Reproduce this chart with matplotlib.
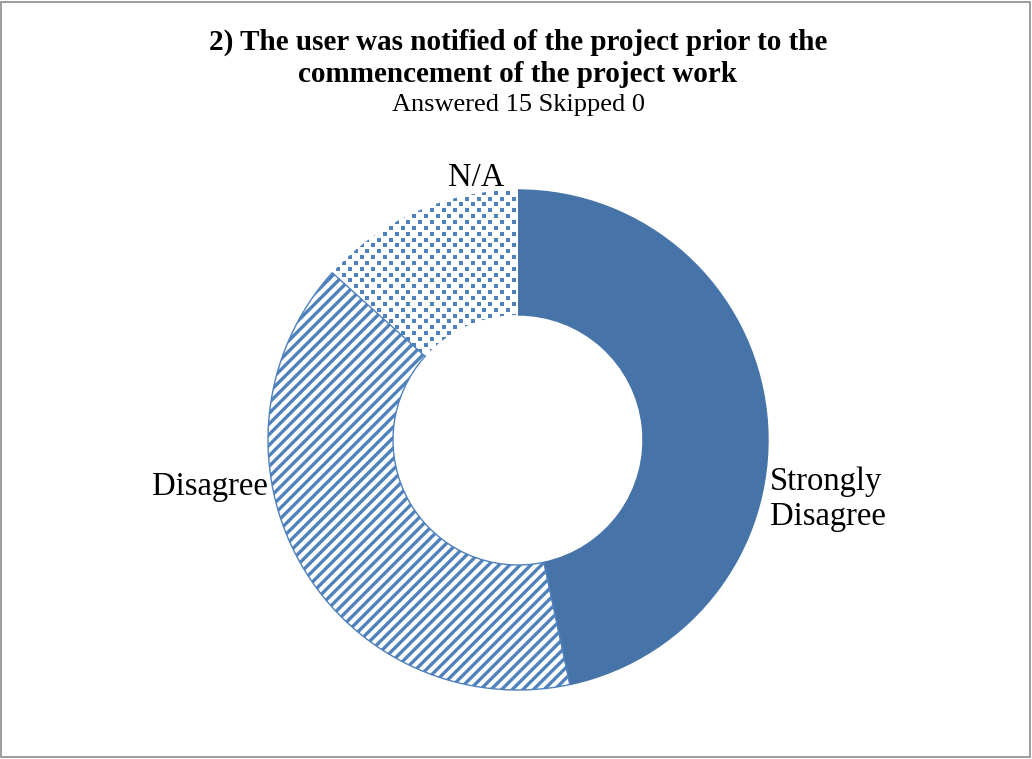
import matplotlib
matplotlib.use("Agg")
import numpy as np
import matplotlib.pyplot as plt
from matplotlib.patches import Rectangle
from matplotlib.collections import LineCollection

categories = ["Strongly\nDisagree", "Disagree", "N/A"]
counts = [7, 6, 2]
title_lines = ["2) The user was notified of the project prior to the",
               "commencement of the project work"]
subtitle = "Answered 15 Skipped 0"

plt.rcParams['font.family'] = ['Liberation Serif', 'DejaVu Serif']

W, H = 1032, 759
fig = plt.figure(figsize=(W / 100, H / 100), dpi=100)
ax = fig.add_axes([0, 0, 1, 1])
ax.set_xlim(0, W)
ax.set_ylim(-H, 0)
ax.set_aspect('equal')
ax.axis('off')

blue_solid = '#4674a8'
blue_pat = '#4f81bd'

cx, cy, R = 518, -440, 250
wedges, _ = ax.pie(counts, center=(cx, cy), radius=R, startangle=90,
                   counterclock=False, wedgeprops=dict(width=125, linewidth=1.0))
ax.set_xlim(0, W)
ax.set_ylim(-H, 0)

wedges[0].set_facecolor(blue_solid)
wedges[0].set_edgecolor(blue_solid)
wedges[1].set_facecolor('none')
wedges[1].set_edgecolor(blue_pat)
wedges[1].set_linewidth(1.0)
wedges[1].set_zorder(4)
wedges[2].set_facecolor('white')
wedges[2].set_linewidth(0)

# stripe pattern for "Disagree"
step = 10.6
cs = np.arange(-1700, 100, step)
x0, x1 = cx - R - 10, cx + R + 10
segs = [[(x0, x0 + c), (x1, x1 + c)] for c in cs]
lc = LineCollection(segs, colors=blue_pat, linewidths=2.4, zorder=3)
ax.add_collection(lc)
lc.set_clip_path(wedges[1])

# dot pattern for "N/A"
p = 5.85
gx = np.arange(cx - R, cx + R, p)
gy = np.arange(cy - R, cy + R, p)
XX, YY = np.meshgrid(np.arange(len(gx)), np.arange(len(gy)))
mask = ((XX + YY) % 2) == 0
px = gx[XX[mask]]
py = gy[YY[mask]]
sc = ax.scatter(px, py, s=5.0, marker='s', color=blue_pat, linewidths=0, zorder=3)
sc.set_clip_path(wedges[2])

ax.text(770, -499, categories[0], ha='left', va='center', fontsize=23.5, linespacing=1.2)
ax.text(268, -487, categories[1], ha='right', va='center', fontsize=23.5)
ax.text(476, -178, categories[2], ha='center', va='center', fontsize=23.5)

ax.text(518, -42, title_lines[0], ha='center', va='center', fontsize=21, fontweight='bold')
ax.text(518, -75, title_lines[1], ha='center', va='center', fontsize=21, fontweight='bold')
ax.text(518, -105, subtitle, ha='center', va='center', fontsize=19)

fig.patches.append(Rectangle((0.001, 0.002), 0.997, 0.996, transform=fig.transFigure,
                             fill=False, edgecolor='#8c8c8c', linewidth=1.2))

fig.savefig('out.png', dpi=100)
